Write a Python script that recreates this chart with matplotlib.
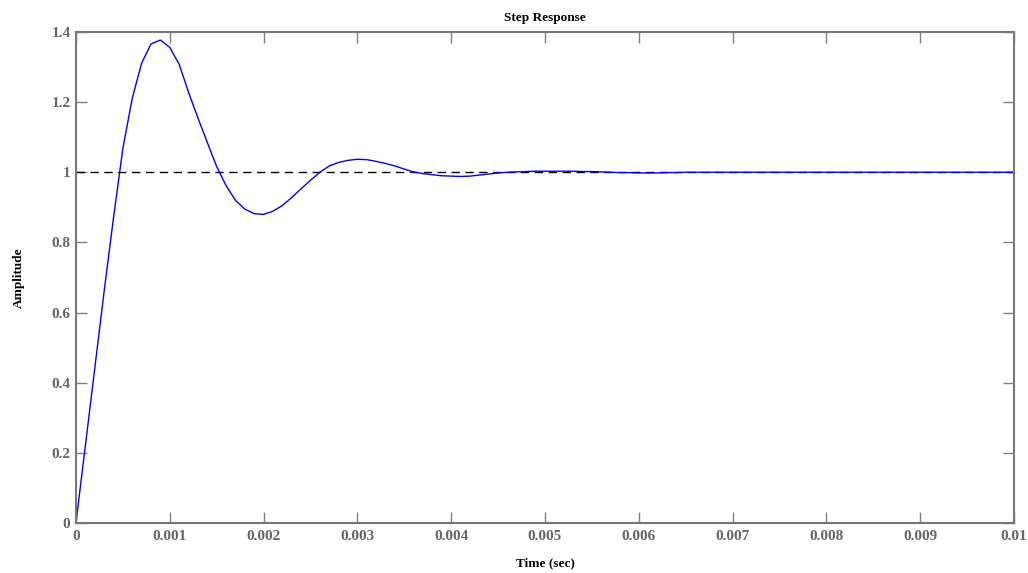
import numpy as np
import matplotlib
matplotlib.use('Agg')
import matplotlib.pyplot as plt

# step response samples (dt = 0.0001 s)
time_s = [0.0000, 0.0001, 0.0002, 0.0003, 0.0004, 0.0005, 0.0006, 0.0007, 0.0008, 0.0009,
          0.0010, 0.0011, 0.0012, 0.0013, 0.0014, 0.0015, 0.0016, 0.0017, 0.0018, 0.0019,
          0.0020, 0.0021, 0.0022, 0.0023, 0.0024, 0.0025, 0.0026, 0.0027, 0.0028, 0.0029,
          0.0030, 0.0031, 0.0032, 0.0033, 0.0034, 0.0035, 0.0036, 0.0037, 0.0038, 0.0039,
          0.0040, 0.0041, 0.0042, 0.0043, 0.0044, 0.0045, 0.0046, 0.0047, 0.0048, 0.0049,
          0.0050, 0.0051, 0.0052, 0.0053, 0.0054, 0.0055, 0.0056, 0.0057, 0.0058, 0.0059,
          0.0060, 0.0061, 0.0062, 0.0063, 0.0064, 0.0065, 0.0100]
amplitude = [0.000, 0.220, 0.440, 0.660, 0.870, 1.068, 1.211, 1.311, 1.366, 1.377,
             1.356, 1.308, 1.228, 1.155, 1.085, 1.016, 0.962, 0.920, 0.895, 0.882,
             0.880, 0.889, 0.905, 0.928, 0.953, 0.977, 1.000, 1.018, 1.028, 1.034,
             1.037, 1.036, 1.031, 1.025, 1.018, 1.009, 1.001, 0.996, 0.993, 0.990,
             0.989, 0.988, 0.989, 0.992, 0.995, 0.998, 1.000, 1.001, 1.002, 1.003,
             1.003, 1.003, 1.003, 1.003, 1.002, 1.002, 1.001, 1.000, 0.999, 0.999,
             0.998, 0.998, 0.998, 0.999, 0.999, 1.000, 1.000]
steady_state = 1.0

x_ticks = [0, 0.001, 0.002, 0.003, 0.004, 0.005, 0.006, 0.007, 0.008, 0.009, 0.01]
x_labels = ['0', '0.001', '0.002', '0.003', '0.004', '0.005', '0.006', '0.007', '0.008', '0.009', '0.01']
y_ticks = [0, 0.2, 0.4, 0.6, 0.8, 1.0, 1.2, 1.4]
y_labels = ['0', '0.2', '0.4', '0.6', '0.8', '1', '1.2', '1.4']

plt.rcParams['font.family'] = ['Liberation Serif', 'DejaVu Serif']
plt.rcParams['font.weight'] = 'bold'

fig = plt.figure(figsize=(10.28, 5.73), dpi=100)
ax = fig.add_axes([0.0739, 0.0873, 0.9125, 0.8569])

ax.plot([0, 0.01], [steady_state, steady_state], color='black', lw=1.0,
        dashes=(6, 4))
ax.plot(time_s, amplitude, color='#0000ff', lw=1.0)

ax.set_xlim(0, 0.01)
ax.set_ylim(0, 1.4)
ax.set_xticks(x_ticks)
ax.set_xticklabels(x_labels)
ax.set_yticks(y_ticks)
ax.set_yticklabels(y_labels)

grey = '#666666'
for sp in ax.spines.values():
    sp.set_color('#777777')
    sp.set_linewidth(1.5)
ax.tick_params(direction='in', length=8, width=1, color='#808080',
               top=True, right=True, labelcolor=grey, labelsize=11)
ax.tick_params(axis='x', pad=5)
ax.tick_params(axis='y', pad=4)
for lab in ax.get_xticklabels() + ax.get_yticklabels():
    lab.set_fontweight('bold')

ax.set_title('Step Response', fontsize=9.5, fontweight='bold', pad=8)
ax.set_xlabel('Time (sec)', fontsize=9.5, fontweight='bold', labelpad=10)
ax.set_ylabel('Amplitude', fontsize=9.5, fontweight='bold', labelpad=19)

fig.savefig('out.png', dpi=100)
